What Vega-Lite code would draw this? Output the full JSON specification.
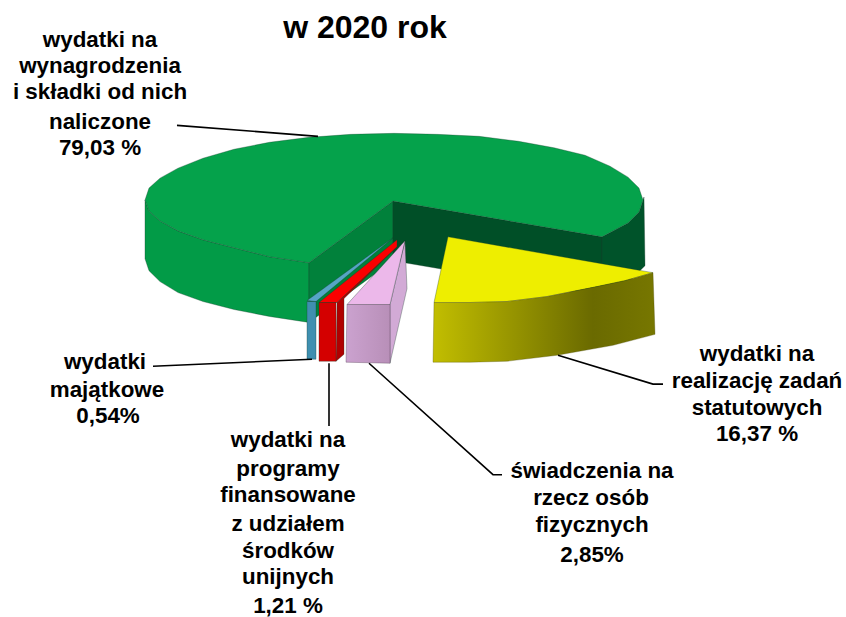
{"$schema":"https://vega.github.io/schema/vega-lite/v6.json","width":846,"height":617,"autosize":{"type":"fit","contains":"padding"},"padding":0,"background":"white","view":{"stroke":null},
"datasets":{"poly":[
{"s":"wallL","i":1,"x":145,"y":201},{"s":"wallL","i":2,"x":149,"y":212},{"s":"wallL","i":3,"x":160,"y":222},{"s":"wallL","i":4,"x":178,"y":232},{"s":"wallL","i":5,"x":203,"y":241},{"s":"wallL","i":6,"x":234,"y":249},{"s":"wallL","i":7,"x":269.5,"y":258},{"s":"wallL","i":8,"x":309,"y":264},{"s":"wallL","i":9,"x":309,"y":324},{"s":"wallL","i":10,"x":269.5,"y":318},{"s":"wallL","i":11,"x":234,"y":311},{"s":"wallL","i":12,"x":203,"y":303},{"s":"wallL","i":13,"x":178,"y":294},{"s":"wallL","i":14,"x":160,"y":283},{"s":"wallL","i":15,"x":149,"y":272},{"s":"wallL","i":16,"x":145,"y":260},
{"s":"innerL","i":1,"x":309,"y":264},{"s":"innerL","i":2,"x":393,"y":202},{"s":"innerL","i":3,"x":393,"y":262},{"s":"innerL","i":4,"x":309,"y":324},
{"s":"innerR","i":1,"x":393,"y":202},{"s":"innerR","i":2,"x":602,"y":238},{"s":"innerR","i":3,"x":602,"y":298},{"s":"innerR","i":4,"x":393,"y":262},
{"s":"wallR","i":1,"x":602,"y":238},{"s":"wallR","i":2,"x":628,"y":224},{"s":"wallR","i":3,"x":639,"y":213},{"s":"wallR","i":4,"x":644,"y":198},{"s":"wallR","i":5,"x":645,"y":267},{"s":"wallR","i":6,"x":628,"y":284},{"s":"wallR","i":7,"x":602,"y":298},
{"s":"top","i":1,"x":602,"y":238},{"s":"top","i":2,"x":628,"y":224},{"s":"top","i":3,"x":639,"y":213},{"s":"top","i":4,"x":643,"y":201},{"s":"top","i":5,"x":639,"y":189},{"s":"top","i":6,"x":628,"y":178},{"s":"top","i":7,"x":610,"y":167},{"s":"top","i":8,"x":585,"y":156},{"s":"top","i":9,"x":554,"y":148.5},{"s":"top","i":10,"x":518.5,"y":142},{"s":"top","i":11,"x":479,"y":137},{"s":"top","i":12,"x":437,"y":135},{"s":"top","i":13,"x":394,"y":134},{"s":"top","i":14,"x":351,"y":135},{"s":"top","i":15,"x":309,"y":138},{"s":"top","i":16,"x":269.5,"y":143},{"s":"top","i":17,"x":234,"y":150},{"s":"top","i":18,"x":203,"y":159},{"s":"top","i":19,"x":178,"y":169},{"s":"top","i":20,"x":160,"y":179},{"s":"top","i":21,"x":149,"y":189},{"s":"top","i":22,"x":145,"y":201},{"s":"top","i":23,"x":149,"y":212},{"s":"top","i":24,"x":160,"y":222},{"s":"top","i":25,"x":178,"y":232},{"s":"top","i":26,"x":203,"y":241},{"s":"top","i":27,"x":234,"y":249},{"s":"top","i":28,"x":269.5,"y":258},{"s":"top","i":29,"x":309,"y":264},{"s":"top","i":30,"x":393,"y":202},
{"s":"blueTop","i":1,"x":307,"y":302},{"s":"blueTop","i":2,"x":393,"y":239},{"s":"blueTop","i":3,"x":316,"y":303},
{"s":"blueFront","i":1,"x":307,"y":303},{"s":"blueFront","i":2,"x":316,"y":303},{"s":"blueFront","i":3,"x":316,"y":361},{"s":"blueFront","i":4,"x":307,"y":361},
{"s":"redSide","i":1,"x":337,"y":304},{"s":"redSide","i":2,"x":397,"y":248},{"s":"redSide","i":3,"x":344,"y":300},{"s":"redSide","i":4,"x":344,"y":356},{"s":"redSide","i":5,"x":336,"y":363},
{"s":"redTop","i":1,"x":319,"y":304},{"s":"redTop","i":2,"x":397,"y":241},{"s":"redTop","i":3,"x":397,"y":248},{"s":"redTop","i":4,"x":337,"y":304},
{"s":"redFront","i":1,"x":319,"y":304},{"s":"redFront","i":2,"x":336,"y":304},{"s":"redFront","i":3,"x":336,"y":363},{"s":"redFront","i":4,"x":319,"y":363},
{"s":"pinkSide","i":1,"x":390,"y":306},{"s":"pinkSide","i":2,"x":405,"y":242},{"s":"pinkSide","i":3,"x":407,"y":290},{"s":"pinkSide","i":4,"x":390,"y":365},
{"s":"pinkTop","i":1,"x":347,"y":306},{"s":"pinkTop","i":2,"x":405,"y":242},{"s":"pinkTop","i":3,"x":390,"y":306},
{"s":"yTop","i":1,"x":448,"y":238},{"s":"yTop","i":2,"x":653,"y":274},{"s":"yTop","i":3,"x":625,"y":282},{"s":"yTop","i":4,"x":597,"y":288},{"s":"yTop","i":5,"x":547,"y":298},{"s":"yTop","i":6,"x":507,"y":303},{"s":"yTop","i":7,"x":470,"y":304},{"s":"yTop","i":8,"x":434,"y":304}
],
"gradY":[
{"i":1,"x":434,"y":304},{"i":2,"x":470,"y":304},{"i":3,"x":507,"y":303},{"i":4,"x":547,"y":298},{"i":5,"x":597,"y":288},{"i":6,"x":625,"y":282},{"i":7,"x":653,"y":274},{"i":8,"x":655,"y":336},{"i":9,"x":613,"y":347},{"i":10,"x":557,"y":357},{"i":11,"x":507,"y":363},{"i":12,"x":470,"y":364},{"i":13,"x":433,"y":364}
],
"gradP":[
{"i":1,"x":347,"y":306},{"i":2,"x":390,"y":306},{"i":3,"x":390,"y":365},{"i":4,"x":346,"y":364}
],
"leaders":[
{"l":"a","i":1,"x":177,"y":126},{"l":"a","i":2,"x":318,"y":137},
{"l":"b","i":1,"x":153,"y":368},{"l":"b","i":2,"x":312,"y":361},
{"l":"c","i":1,"x":329,"y":365},{"l":"c","i":2,"x":329,"y":428},
{"l":"d","i":1,"x":369,"y":365},{"l":"d","i":2,"x":493,"y":477},{"l":"d","i":3,"x":502,"y":477},
{"l":"e","i":1,"x":558,"y":357},{"l":"e","i":2,"x":653,"y":386},{"l":"e","i":3,"x":663,"y":386}
],
"labels":[
{"t":"wydatki  na","x":100,"y":39},{"t":"wynagrodzenia","x":100,"y":65},{"t":"i składki od nich","x":100,"y":91},{"t":"naliczone","x":100,"y":121},{"t":"79,03 %","x":100,"y":147},
{"t":"wydatki","x":105,"y":362},{"t":"majątkowe","x":107,"y":390},{"t":"0,54%","x":108,"y":417},
{"t":"wydatki  na","x":288,"y":441},{"t":"programy","x":288,"y":470},{"t":"finansowane","x":288,"y":496},{"t":"z udziałem","x":288,"y":525},{"t":"środków","x":288,"y":552},{"t":"unijnych","x":288,"y":578},{"t":"1,21 %","x":288,"y":607},
{"t":"świadczenia na","x":592,"y":472},{"t":"rzecz osób","x":591,"y":499},{"t":"fizycznych","x":592,"y":526},{"t":"2,85%","x":592,"y":556},
{"t":"wydatki  na","x":757,"y":354},{"t":"realizację zadań","x":757,"y":381},{"t":"statutowych","x":757,"y":408},{"t":"16,37 %","x":757,"y":435}
],
"heading":[{"t":"w 2020 rok","x":365,"y":28}]
},
"data":{"name":"poly"},
"encoding":{
"x":{"field":"x","type":"quantitative","scale":{"domain":[0,846],"nice":false,"zero":false},"axis":null},
"y":{"field":"y","type":"quantitative","scale":{"domain":[617,0],"nice":false,"zero":false},"axis":null},
"order":{"field":"i","type":"quantitative"}
},
"layer":[
{"mark":{"type":"line","filled":true,"interpolate":"linear-closed","stroke":"#1a3a2a","strokeWidth":0.6,"strokeOpacity":0.55},
"encoding":{"detail":{"field":"s"},"color":{"field":"s","type":"nominal","legend":null,"sort":null,"scale":{"domain":["wallL","innerL","innerR","wallR","top","blueTop","blueFront","redSide","redTop","redFront","pinkSide","pinkTop","yTop"],"range":["#029b47","#01813b","#004f27","#00532a","#05a24b","#55a5c5","#3f8fb0","#b00000","#fb0000","#d40000","#d2aad6","#ecb8ea","#eeee00"]}}}},
{"data":{"name":"gradY"},"mark":{"type":"line","filled":true,"interpolate":"linear-closed","strokeWidth":0.6,"stroke":"#444400","strokeOpacity":0.5,"fill":{"gradient":"linear","x1":0,"y1":0,"x2":1,"y2":0,"stops":[{"offset":0,"color":"#c2be00"},{"offset":0.72,"color":"#6a6a00"},{"offset":1,"color":"#777700"}]}}},
{"data":{"name":"gradP"},"mark":{"type":"line","filled":true,"interpolate":"linear-closed","strokeWidth":0.6,"stroke":"#554055","strokeOpacity":0.6,"fill":{"gradient":"linear","x1":0,"y1":0,"x2":1,"y2":0,"stops":[{"offset":0,"color":"#cba2cf"},{"offset":1,"color":"#b88fb8"}]}}},
{"data":{"name":"leaders"},"mark":{"type":"line","color":"#000000","strokeWidth":1.6},"encoding":{"detail":{"field":"l"}}},
{"data":{"name":"labels"},"mark":{"type":"text","font":"Liberation Sans","fontWeight":"bold","fontSize":22.4,"align":"center","baseline":"middle","dy":1.5,"color":"#000000"},"encoding":{"text":{"field":"t"},"order":null}},
{"data":{"name":"heading"},"mark":{"type":"text","font":"Liberation Sans","fontWeight":"bold","fontSize":32,"align":"center","baseline":"middle","color":"#000000"},"encoding":{"text":{"field":"t"},"order":null}}
]}
